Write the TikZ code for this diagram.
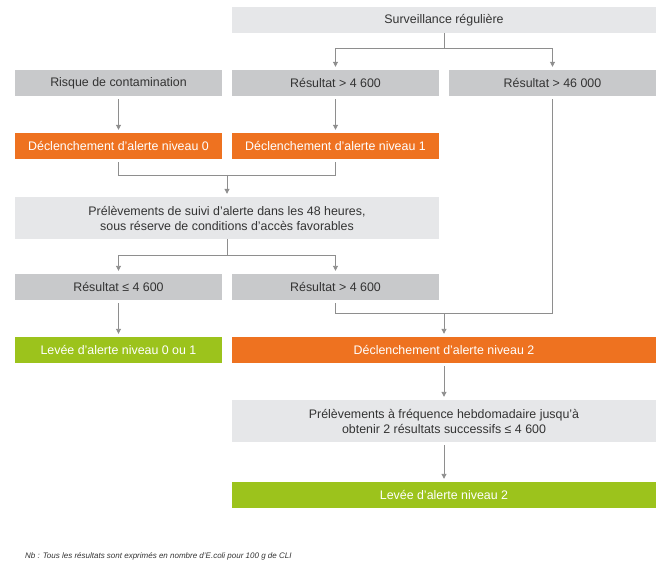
\documentclass[tikz,border=0pt]{standalone}
\usepackage{fontspec}
\setmainfont{Liberation Sans}
\usetikzlibrary{arrows.meta,calc}

\definecolor{boxgrey}{HTML}{C8C9CB}
\definecolor{palegrey}{HTML}{E6E7E9}
\definecolor{alertorange}{HTML}{EE7220}
\definecolor{liftgreen}{HTML}{9CC31C}
\definecolor{linegrey}{HTML}{8E8E8E}
\definecolor{textgrey}{HTML}{333333}

\begin{document}
\begin{tikzpicture}[x=1pt,y=-1pt,
  basebox/.style={rectangle, inner sep=0pt, minimum height=26pt,
    font=\fontsize{12.4}{15}\selectfont, align=center},
  greybox/.style={basebox, fill=boxgrey, text=textgrey},
  palebox/.style={basebox, fill=palegrey, text=textgrey},
  orangebox/.style={basebox, fill=alertorange, text=white},
  greenbox/.style={basebox, fill=liftgreen, text=white},
  narrow/.style={minimum width=207pt},
  wide/.style={minimum width=424pt},
  link/.style={draw=linegrey, line width=0.9pt},
  arr/.style={link, -{Triangle[length=5pt,width=5pt]}, shorten >=3pt},
  fromnode/.style={shorten <=3pt}]
\useasboundingbox (0,0) rectangle (664,564);

% first row
\node[palebox, wide] (surv) at (444,20) {Surveillance régulière};

% second row
\node[greybox, narrow] (risk) at (118.5,83) {Risque de contamination};
\node[greybox, narrow] (resA) at (335.5,83) {Résultat > 4 600};
\node[greybox, narrow] (resB) at (552.5,83) {Résultat > 46 000};

% alerts 0 and 1
\node[orangebox, narrow] (alert0) at (118.5,146) {Déclenchement d'alerte niveau 0};
\node[orangebox, narrow] (alert1) at (335.5,146) {Déclenchement d'alerte niveau 1};

% follow-up sampling
\node[palebox, wide, minimum height=42pt] (follow) at (227,218)
  {Prélèvements de suivi d'alerte dans les 48 heures,\\sous réserve de conditions d'accès favorables};

% follow-up results
\node[greybox, narrow] (low) at (118.5,287) {Résultat ≤ 4 600};
\node[greybox, narrow] (high) at (335.5,287) {Résultat > 4 600};

% outcomes
\node[greenbox, narrow] (lift01) at (118.5,350) {Levée d'alerte niveau 0 ou 1};
\node[orangebox, wide] (alert2) at (444,350) {Déclenchement d'alerte niveau 2};

\node[palebox, wide, minimum height=42pt] (weekly) at (444,421)
  {Prélèvements à fréquence hebdomadaire jusqu'à\\obtenir 2 résultats successifs ≤ 4 600};
\node[greenbox, wide] (lift2) at (444,495) {Levée d'alerte niveau 2};

% note
\node[anchor=west, inner sep=0pt, text=textgrey, font=\fontsize{8}{9}\selectfont\itshape] (note) at (25,556)
  {Nb : Tous les résultats sont exprimés en nombre d'E.coli pour 100 g de CLI};

% connectors
\coordinate (split1) at ($(surv.south)+(0,15)$);
\draw[link] (surv.south) -- (split1);
\draw[arr] (split1) -| (resA.north);
\draw[arr] (split1) -| (resB.north);

\draw[arr, fromnode] (risk) -- (alert0);
\draw[arr, fromnode] (resA) -- (alert1);

\coordinate (merge1) at (227,175);
\draw[link, fromnode] (alert0.south) |- (merge1);
\draw[link, fromnode] (alert1.south) |- (merge1);
\draw[arr] (merge1) -- (follow.north);

\coordinate (split2) at (227,255);
\draw[link] (follow.south) -- (split2);
\draw[arr] (split2) -| (low.north);
\draw[arr] (split2) -| (high.north);

\draw[arr, fromnode] (low) -- (lift01);

\coordinate (merge2) at (444,313);
\draw[link, fromnode] (high.south) |- (merge2);
\draw[link, fromnode] (resB.south) |- (merge2);
\draw[arr] (merge2) -- (alert2.north);

\draw[arr, fromnode] (alert2) -- (weekly);
\draw[arr, fromnode] (weekly) -- (lift2);
\end{tikzpicture}
\end{document}
